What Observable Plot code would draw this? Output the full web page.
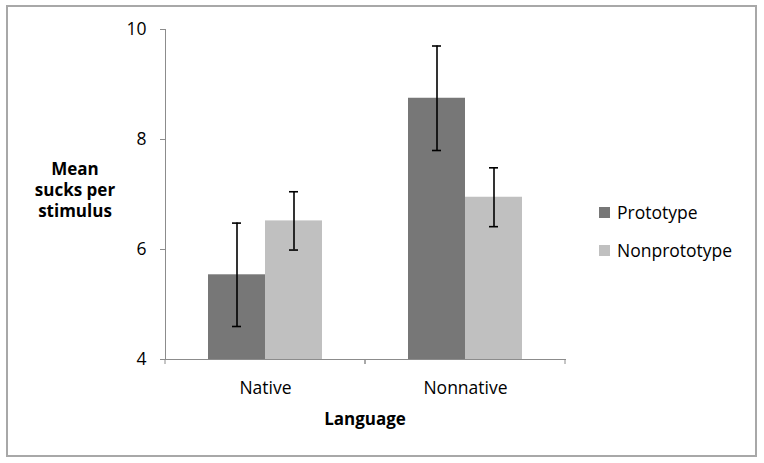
<!DOCTYPE html>
<html><head><meta charset="utf-8">
<script src="https://cdn.jsdelivr.net/npm/d3@7"></script>
<script src="https://cdn.jsdelivr.net/npm/@observablehq/plot@0.6"></script>
<style>
body{margin:0;background:#fff;}
#wrap{position:relative;width:764px;height:463px;font-family:"Open Sans",sans-serif;color:#000;overflow:hidden;}
#wrap svg{position:absolute;left:0;top:0;}
#border{position:absolute;left:6px;top:5px;width:747px;height:448px;border:2px solid #a8a8a8;}
.lbl{position:absolute;font-weight:bold;font-size:17px;line-height:21px;text-align:center;}
.leg{position:absolute;font-size:17.5px;line-height:21px;white-space:nowrap;}
.sw{position:absolute;width:11px;height:11px;}
</style></head><body>
<div id="wrap"><div id="border"></div></div>
<script>
const languages = ["Native", "Nonnative"];
const series = ["Prototype", "Nonprototype"];
const colors = ["#777777", "#c0c0c0"];
const protoMeans = [5.54, 8.75];
const protoErr = [0.94, 0.95];
const nonprotoMeans = [6.52, 6.95];
const nonprotoErr = [0.53, 0.535];
const yDomain = [4, 10];
const yTicks = [4, 6, 8, 10];
const yLabel = ["Mean", "sucks per", "stimulus"];
const xLabel = "Language";

const table = [];
languages.forEach((lang, i) => {
  table.push({Language: lang, Series: series[0], mean: protoMeans[i], err: protoErr[i]});
  table.push({Language: lang, Series: series[1], mean: nonprotoMeans[i], err: nonprotoErr[i]});
});

const axisColor = "#8c8c8c";

function boundaryTicks(index, scales, values, dims) {
  const g = d3.create("svg:g");
  const y0 = scales.y(yDomain[0]);
  for (const x of [dims.marginLeft, dims.width - dims.marginRight]) {
    g.append("line").attr("x1", x).attr("x2", x).attr("y1", y0).attr("y2", y0 + 5)
      .attr("stroke", axisColor).attr("stroke-width", 1);
  }
  return g.node();
}

const plot = Plot.plot({
  width: 764, height: 463,
  marginLeft: 165, marginRight: 199, marginTop: 29, marginBottom: 104,
  style: {fontFamily: "Open Sans", fontSize: "17.5px", color: "#000", background: "transparent"},
  fx: {domain: languages, padding: 0, label: null},
  x: {domain: series, paddingInner: 0, paddingOuter: 0.75, axis: null},
  y: {domain: yDomain, ticks: yTicks, label: null},
  color: {domain: series, range: colors},
  marks: [
    Plot.barY(table, {fx: "Language", x: "Series", y1: yDomain[0], y2: "mean", fill: "Series"}),
    Plot.ruleX(table, {fx: "Language", x: "Series", y1: d => d.mean - d.err, y2: d => d.mean + d.err, stroke: "#000", strokeWidth: 1.6}),
    Plot.tickY(table, {fx: "Language", x: "Series", y: d => d.mean - d.err, insetLeft: 24, insetRight: 24, stroke: "#000", strokeWidth: 1.6}),
    Plot.tickY(table, {fx: "Language", x: "Series", y: d => d.mean + d.err, insetLeft: 24, insetRight: 24, stroke: "#000", strokeWidth: 1.6}),
    Plot.frame({anchor: "bottom", stroke: axisColor, strokeOpacity: 1}),
    Plot.frame({anchor: "left", stroke: axisColor, strokeOpacity: 1, facetAnchor: "left"}),
    boundaryTicks,
    Plot.axisY({ticks: yTicks, tickFormat: d3.format("d"), tickSize: 5, tickPadding: 14, stroke: axisColor, strokeOpacity: 1, fill: "#000", label: null}),
    Plot.axisFx({anchor: "bottom", tickSize: 0, tickPadding: 22, fill: "#000", label: null})
  ]
});

const wrap = d3.select("#wrap");
wrap.node().appendChild(plot);

wrap.append("div").attr("class", "lbl")
  .style("left", "0px").style("width", "150px").style("top", "158px")
  .html(yLabel.join("<br>"));
wrap.append("div").attr("class", "lbl")
  .style("left", "265px").style("width", "200px").style("top", "408px")
  .text(xLabel);

const legTops = [207, 245];
series.forEach((s, i) => {
  wrap.append("div").attr("class", "sw").style("left", "599px").style("top", legTops[i] + "px").style("background", colors[i]);
  wrap.append("div").attr("class", "leg").style("left", "617px").style("top", (legTops[i] - 5) + "px").text(s);
});
</script>
</body></html>
